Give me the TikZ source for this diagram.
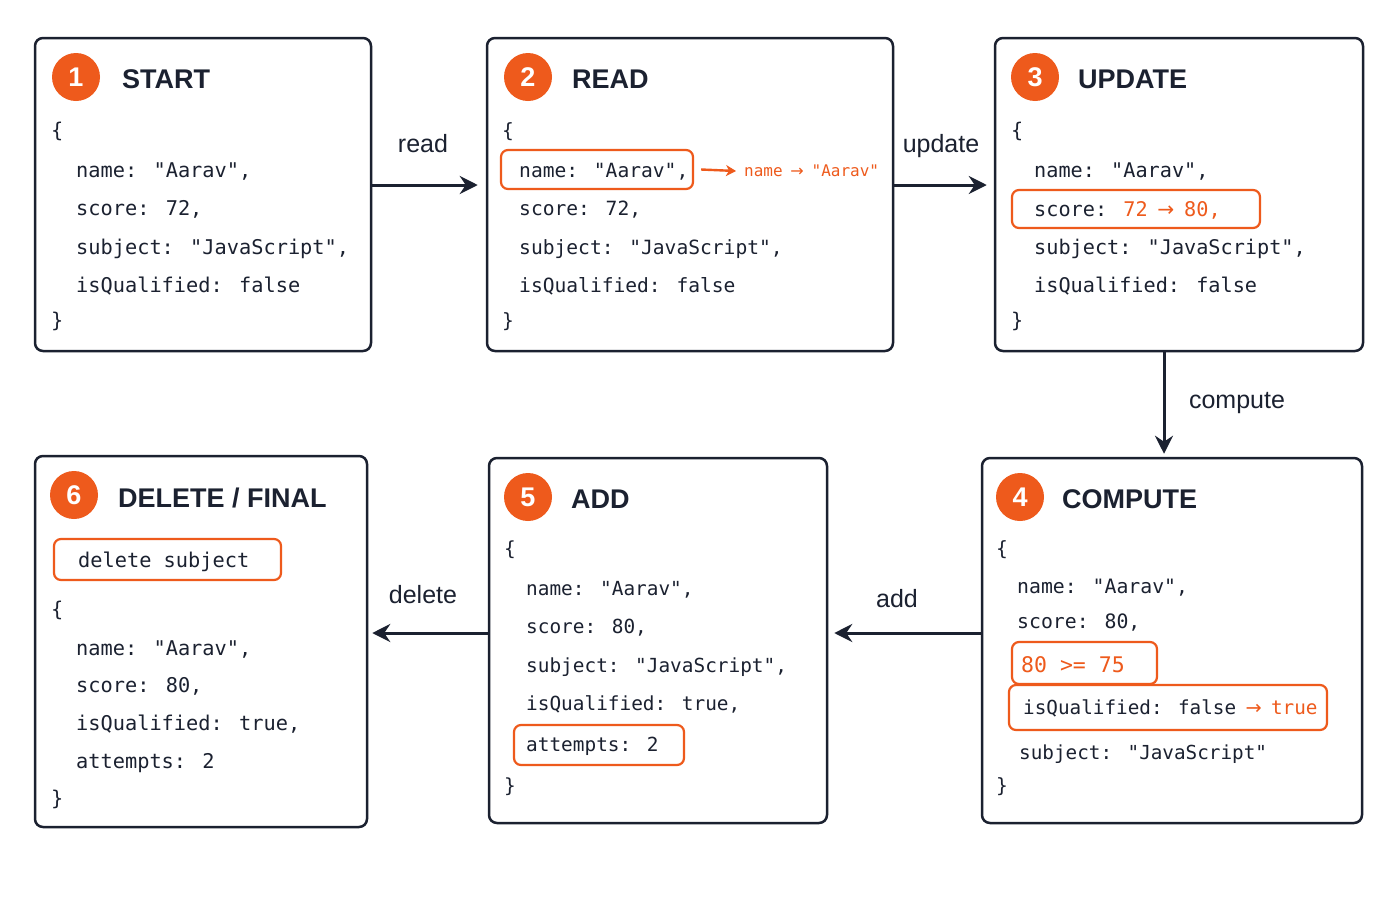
\documentclass[tikz,border=0pt]{standalone}
\usepackage{fontspec}
\usepackage{graphicx}
\setmainfont{Liberation Sans}
\newfontfamily\codefont{DejaVu Sans Mono}
\newfontfamily\arrowfont{DejaVu Sans}
\newcommand\myarr{\makebox[0.602em]{\arrowfont →}}
\usetikzlibrary{arrows.meta}
\definecolor{ink}{HTML}{1B2130}
\definecolor{org}{HTML}{EE5A1C}
\tikzset{
  box/.style={draw=ink, line width=2.5pt, rounded corners=8pt, fill=white, inner sep=0pt},
  hl/.style={draw=org, line width=2.2pt, rounded corners=7pt, inner sep=0pt},
  num/.style={circle, fill=org, minimum size=48pt, inner sep=0pt, text=white, font=\fontsize{27}{27}\selectfont\bfseries},
  title/.style={anchor=base west, inner sep=0pt, text=ink, font=\fontsize{27}{27}\selectfont\bfseries},
  code/.style={anchor=base west, inner sep=0pt, text=ink, font=\codefont\fontsize{#1}{#1}\selectfont},
  code/.default=19.3,
  conn/.style={draw=ink, line width=3pt, -{Stealth[length=18pt,width=18pt,inset=6pt]}},
  oconn/.style={draw=org, line width=2.4pt, -{Stealth[length=10pt,width=11pt,inset=3pt]}},
  lbl/.style={anchor=base, inner sep=0pt, text=ink, font=\fontsize{25}{25}\selectfont}
}
\begin{document}
\begin{tikzpicture}[x=1pt,y=-1pt]
\useasboundingbox[fill=white] (0,0) rectangle (1400,900);

% boxes
\node[box, minimum width=336pt, minimum height=313pt] (b1) at (203,194.5) {};
\node[box, minimum width=406pt, minimum height=313pt] (b2) at (690,194.5) {};
\node[box, minimum width=368pt, minimum height=313pt] (b3) at (1179,194.5) {};
\node[box, minimum width=380pt, minimum height=365pt] (b4) at (1172,640.5) {};
\node[box, minimum width=338pt, minimum height=365pt] (b5) at (658,640.5) {};
\node[box, minimum width=332pt, minimum height=371pt] (b6) at (201,641.5) {};

% headers
\node[num] (n1) at (76,77) {1};
\node[title] (t1) at (122,88) {START};
\node[num] (n2) at (528,77) {2};
\node[title] (t2) at (572,88) {READ};
\node[num] (n3) at (1035,77) {3};
\node[title] (t3) at (1078,88) {UPDATE};
\node[num] (n4) at (1020,497) {4};
\node[title] (t4) at (1062,508) {COMPUTE};
\node[num] (n5) at (528,497) {5};
\node[title] (t5) at (571,508) {ADD};
\node[num] (n6) at (74,495) {6};
\node[title] (t6) at (118,507) {DELETE / FINAL};

% box 1
\node[code=20.3] (c1a) at (51,137) {\{};
\node[code=20.3] (c1b) at (76,177) {name: "Aarav",};
\node[code=20.3] (c1c) at (76,215) {score: 72,};
\node[code=20.3] (c1d) at (76,254) {subject: "JavaScript",};
\node[code=20.3] (c1e) at (76,292) {isQualified: false};
\node[code=20.3] (c1f) at (51,327) {\}};

% box 2
\node[hl, minimum width=192pt, minimum height=39pt] (h2) at (597,169.5) {};
\node[code=19.6] (c2a) at (502,137) {\{};
\node[code=19.6] (c2b) at (519,177) {name: "Aarav",};
\node[code=19.6] (c2c) at (519,215) {score: 72,};
\node[code=19.6] (c2d) at (519,254) {subject: "JavaScript",};
\node[code=19.6] (c2e) at (519,292) {isQualified: false};
\node[code=19.6] (c2f) at (502,327) {\}};
\node[code=16, text=org, anchor=west] (r2) at (744,171) {name \myarr{} "Aarav"};
\draw[oconn] ([xshift=7pt]h2.east) -- ([xshift=-8pt]r2.west);

% box 3
\node[hl, minimum width=248pt, minimum height=38pt] (h3) at (1136,209) {};
\node[code=20.2] (c3a) at (1011,137) {\{};
\node[code=20.2] (c3b) at (1034,177) {name: "Aarav",};
\node[code=20.2] (c3c) at (1034,216) {score: \textcolor{org}{72 \myarr{} 80,}};
\node[code=20.2] (c3d) at (1034,254) {subject: "JavaScript",};
\node[code=20.2] (c3e) at (1034,292) {isQualified: false};
\node[code=20.2] (c3f) at (1011,327) {\}};

% box 4
\node[hl, minimum width=145pt, minimum height=42pt] (h4a) at (1084.5,663) {};
\node[hl, minimum width=318pt, minimum height=45pt] (h4b) at (1168,707.5) {};
\node[code=19.6] (c4a) at (996,555) {\{};
\node[code=19.8] (c4b) at (1017,593) {name: "Aarav",};
\node[code=19.8] (c4c) at (1017,628) {score: 80,};
\node[code=21.5, text=org] (c4d) at (1021,672) {80 >= 75};
\node[code=19.3] (c4e) at (1023,714) {isQualified: false \textcolor{org}{\myarr{} true}};
\node[code=19.3] (c4f) at (1019,759) {subject: "JavaScript"};
\node[code=19.6] (c4g) at (996,792) {\}};

% box 5
\node[hl, minimum width=170pt, minimum height=40pt] (h5) at (599,745) {};
\node[code=19.4] (c5a) at (504,555) {\{};
\node[code=19.4] (c5b) at (526,595) {name: "Aarav",};
\node[code=19.4] (c5c) at (526,633) {score: 80,};
\node[code=19.4] (c5d) at (526,672) {subject: "JavaScript",};
\node[code=19.4] (c5e) at (526,710) {isQualified: true,};
\node[code=19.4] (c5f) at (526,751) {attempts: 2};
\node[code=19.4] (c5g) at (504,792) {\}};

% box 6
\node[hl, minimum width=227pt, minimum height=41pt] (h6) at (167.5,559.5) {};
\node[code=20.3] (c6a) at (78,567) {delete subject};
\node[code=20.3] (c6b) at (51,616) {\{};
\node[code=20.3] (c6c) at (76,655) {name: "Aarav",};
\node[code=20.3] (c6d) at (76,692) {score: 80,};
\node[code=20.3] (c6e) at (76,730) {isQualified: true,};
\node[code=20.3] (c6f) at (76,768) {attempts: 2};
\node[code=20.3] (c6g) at (51,805) {\}};

% connectors
\draw[conn] ([yshift=9.5pt]b1.east) -- ([yshift=9.5pt,xshift=-8pt]b2.west);
\draw[conn] ([yshift=9.5pt]b2.east) -- ([yshift=9.5pt,xshift=-7pt]b3.west);
\draw[conn] ([xshift=-15pt]b3.south) -- ([xshift=-8pt,yshift=3pt]b4.north);
\draw[conn] ([yshift=7.5pt]b4.west) -- ([yshift=7.5pt,xshift=6pt]b5.east);
\draw[conn] ([yshift=7.5pt]b5.west) -- ([yshift=8.5pt,xshift=4pt]b6.east);

% connector labels
\node[lbl] (l1) at (423,152) {read};
\node[lbl] (l2) at (941,152) {update};
\node[lbl] (l3) at (1237,408) {compute};
\node[lbl] (l4) at (897,607) {add};
\node[lbl] (l5) at (423,603) {delete};
\end{tikzpicture}
\end{document}
